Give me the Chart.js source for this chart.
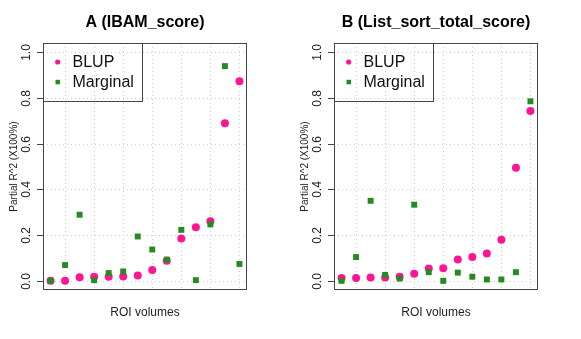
<!DOCTYPE html>
<html>
<head>
<meta charset="utf-8">
<script src="https://cdn.jsdelivr.net/npm/chart.js@4/dist/chart.umd.min.js"></script>
<style>
  html, body { margin: 0; padding: 0; background: #fff; }
  #wrap { position: relative; width: 581px; height: 339px; }
  canvas { position: absolute; top: 0; }
  #chartA { left: 0; }
  #chartB { left: 291px; }
</style>
</head>
<body>
<div id="wrap">
  <canvas id="chartA" width="290" height="339"></canvas>
  <canvas id="chartB" width="290" height="339"></canvas>
</div>
<script>
// ROI index along the x axis (sorted by BLUP)
var roiIndex = [1, 2, 3, 4, 5, 6, 7, 8, 9, 10, 11, 12, 13, 14];

// Panel A (IBAM_score)
var blupA = [0.000, 0.000, 0.016, 0.018, 0.018, 0.019, 0.023, 0.047, 0.088, 0.185, 0.234, 0.261, 0.689, 0.873];
var marginalA = [0.000, 0.069, 0.289, 0.003, 0.034, 0.041, 0.194, 0.137, 0.093, 0.223, 0.003, 0.247, 0.939, 0.074];

// Panel B (List_sort_total_score)
var blupB = [0.012, 0.012, 0.015, 0.015, 0.018, 0.031, 0.054, 0.055, 0.093, 0.104, 0.120, 0.180, 0.495, 0.743];
var marginalB = [0.000, 0.104, 0.350, 0.026, 0.010, 0.333, 0.038, 0.000, 0.036, 0.018, 0.006, 0.006, 0.038, 0.785];

var yTicks = [0, 0.2, 0.4, 0.6, 0.8, 1.0];
var yTickLabels = ['0.0', '0.2', '0.4', '0.6', '0.8', '1.0'];
var xGrid = [2, 4, 6, 8, 10, 12, 14];
var seriesNames = ['BLUP', 'Marginal'];

var PINK = '#ff1493';
var GREEN = '#228b22';
var FONT = '"Liberation Sans", Arial, Helvetica, sans-serif';

function toPoints(vals) {
    return vals.map(function (v, i) { return { x: roiIndex[i], y: v }; });
}

// draws the R style frame: grid, box, y axis, titles and legend
var decor = {
    id: 'decor',
    beforeDatasetsDraw: function (chart) {
        var ctx = chart.ctx, a = chart.chartArea;
        var x = chart.scales.x, y = chart.scales.y;
        ctx.save();
        ctx.strokeStyle = '#cfcfcf';
        ctx.lineWidth = 1;
        ctx.setLineDash([1, 3]);
        yTicks.forEach(function (v) {
            var py = Math.round(y.getPixelForValue(v)) + 0.5;
            ctx.beginPath();
            ctx.moveTo(a.left, py);
            ctx.lineTo(a.right, py);
            ctx.stroke();
        });
        xGrid.forEach(function (v) {
            var px = Math.round(x.getPixelForValue(v)) + 0.5;
            ctx.beginPath();
            ctx.moveTo(px, a.top);
            ctx.lineTo(px, a.bottom);
            ctx.stroke();
        });
        ctx.restore();
    },
    afterDatasetsDraw: function (chart, args, opts) {
        var ctx = chart.ctx, a = chart.chartArea;
        var y = chart.scales.y;
        var cx = (a.left + a.right) / 2;
        ctx.save();

        // box
        ctx.strokeStyle = '#444';
        ctx.lineWidth = 1;
        ctx.strokeRect(a.left + 0.5, a.top + 0.5, a.right - a.left - 1, a.bottom - a.top - 1);

        // y axis ticks + rotated labels
        ctx.fillStyle = '#222';
        ctx.font = '12px ' + FONT;
        yTicks.forEach(function (v, i) {
            var py = Math.round(y.getPixelForValue(v)) + 0.5;
            ctx.beginPath();
            ctx.moveTo(a.left - 6, py);
            ctx.lineTo(a.left, py);
            ctx.stroke();
            ctx.save();
            ctx.translate(27, py);
            ctx.rotate(-Math.PI / 2);
            ctx.textAlign = 'center';
            ctx.textBaseline = 'middle';
            ctx.fillText(yTickLabels[i], 0, 0);
            ctx.restore();
        });

        // y title
        ctx.save();
        ctx.font = '10px ' + FONT;
        ctx.translate(14, (a.top + a.bottom) / 2);
        ctx.rotate(-Math.PI / 2);
        ctx.textAlign = 'center';
        ctx.textBaseline = 'middle';
        ctx.fillText('Partial R^2 (X100%)', 0, 0);
        ctx.restore();

        // x title
        ctx.font = '12px ' + FONT;
        ctx.textAlign = 'center';
        ctx.textBaseline = 'middle';
        ctx.fillText('ROI volumes', cx, 313);

        // main title
        ctx.fillStyle = '#000';
        ctx.font = 'bold 16px ' + FONT;
        ctx.fillText(opts.title, cx, 23);

        // legend
        ctx.strokeStyle = '#444';
        ctx.strokeRect(a.left + 0.5, a.top + 0.5, 99, 58);
        ctx.fillStyle = PINK;
        ctx.beginPath();
        ctx.arc(a.left + 14.7, 62, 2.6, 0, Math.PI * 2);
        ctx.fill();
        ctx.fillStyle = GREEN;
        ctx.fillRect(a.left + 12.5, 79.8, 4.5, 4.5);
        ctx.fillStyle = '#111';
        ctx.font = '16px ' + FONT;
        ctx.textAlign = 'left';
        ctx.fillText(seriesNames[0], a.left + 29.5, 63);
        ctx.fillText(seriesNames[1], a.left + 29.5, 83);

        ctx.restore();
    }
};

function makeChart(id, title, blup, marginal) {
    var ctx = document.getElementById(id).getContext('2d');
    return new Chart(ctx, {
        type: 'scatter',
        data: {
            datasets: [{
                label: seriesNames[0],
                data: toPoints(blup),
                pointStyle: 'circle',
                pointRadius: 4,
                pointHoverRadius: 4,
                borderWidth: 0,
                backgroundColor: PINK,
                order: 2
            }, {
                label: seriesNames[1],
                data: toPoints(marginal),
                pointStyle: 'rect',
                pointRadius: 4.2,
                pointHoverRadius: 4.2,
                borderWidth: 0,
                backgroundColor: GREEN,
                order: 1
            }]
        },
        options: {
            responsive: false,
            animation: false,
            devicePixelRatio: 1,
            layout: { padding: { left: 43, right: 43, top: 43, bottom: 49 } },
            scales: {
                x: { type: 'linear', min: 0.48, max: 14.52, display: false },
                y: { type: 'linear', min: -0.04, max: 1.04, display: false }
            },
            plugins: {
                legend: { display: false },
                tooltip: { enabled: false },
                decor: { title: title }
            }
        },
        plugins: [decor]
    });
}

makeChart('chartA', 'A (IBAM_score)', blupA, marginalA);
makeChart('chartB', 'B (List_sort_total_score)', blupB, marginalB);
</script>
</body>
</html>
